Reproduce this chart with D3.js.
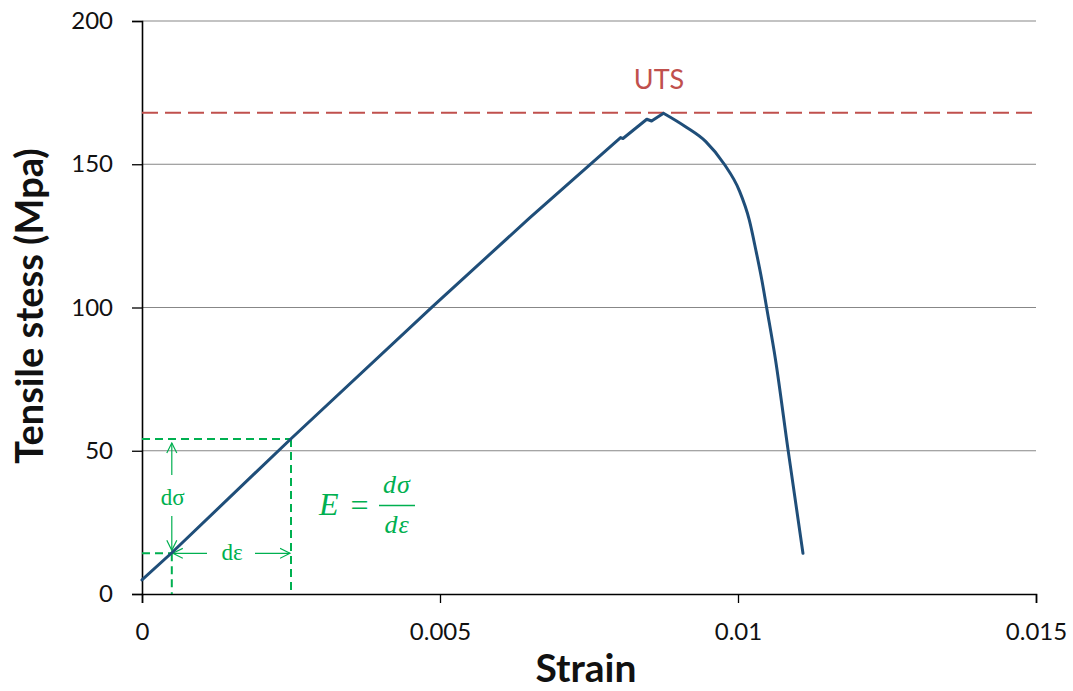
<!DOCTYPE html>
<html>
<head>
<meta charset="utf-8">
<script src="https://cdn.jsdelivr.net/npm/d3@7"></script>
<style>
  html, body { margin: 0; padding: 0; background: #fff; }
  svg { display: block; }
  .sans { font-family: Lato, "Open Sans", sans-serif; }
  .serif { font-family: "Liberation Serif", "DejaVu Serif", serif; }
</style>
</head>
<body>
<svg id="chart" width="1073" height="691"></svg>
<script>
// Stress–strain curve of the tensile test
const strain = [0, 0.0005, 0.0025, 0.00487, 0.0065, 0.00803, 0.00807, 0.00847, 0.00855, 0.00875,
                0.00912, 0.00946, 0.00977, 0.01002, 0.01019, 0.0103, 0.0104, 0.01048,
                0.01063, 0.01084, 0.01109];
const stress = [4.9, 14.4, 54.2, 100.2, 131.2, 159.3, 159.0, 165.7, 165.1, 167.8,
                163.1, 157.9, 150.0, 140.9, 130.5, 120.0, 109.6, 100.0,
                81.7, 50.3, 14.2];

// Ultimate tensile strength
const utsValue = 168;
const utsLabel = "UTS";

// Two points used to illustrate the modulus E = dσ/dε
const slopeStrain = [0.0005, 0.0025];
const slopeStress = [14.2, 54.1];

// Axes
const xTicks = [0, 0.005, 0.01, 0.015];
const xTickLabels = ["0", "0.005", "0.01", "0.015"];
const yTicks = [0, 50, 100, 150, 200];
const yTickLabels = ["0", "50", "100", "150", "200"];
const xTitle = "Strain";
const yTitle = "Tensile stess (Mpa)";

const svg = d3.select("#chart");
const x = d3.scaleLinear().domain([0, 0.015]).range([142, 1036]);
const y = d3.scaleLinear().domain([0, 200]).range([594, 21]);

const green = "#00b050";
const red = "#c0504d";
const blue = "#1f4e79";

// Horizontal gridlines
svg.append("g")
  .selectAll("line")
  .data(yTicks.filter(d => d > 0))
  .join("line")
  .attr("x1", x(0)).attr("x2", x(0.015))
  .attr("y1", d => y(d)).attr("y2", d => y(d))
  .attr("stroke", "#878787").attr("stroke-width", 1);

// Y axis
const yAxis = svg.append("g")
  .attr("transform", `translate(${x(0)},0)`)
  .call(d3.axisLeft(y).tickValues(yTicks).tickFormat((d, i) => yTickLabels[i]).tickSize(10).tickPadding(19));
yAxis.select(".domain").attr("stroke", "#000").attr("stroke-width", 1.6);
yAxis.selectAll(".tick line").attr("stroke", "#000").attr("stroke-width", 1.3);
yAxis.selectAll(".tick text")
  .attr("class", "sans")
  .attr("font-size", 24).attr("fill", "#111");

// X axis
const xAxis = svg.append("g")
  .attr("transform", `translate(0,${y(0)})`)
  .call(d3.axisBottom(x).tickValues(xTicks).tickFormat((d, i) => xTickLabels[i]).tickSize(9).tickPadding(20));
xAxis.select(".domain").attr("stroke", "#000").attr("stroke-width", 1.6);
xAxis.selectAll(".tick line").attr("stroke", "#000").attr("stroke-width", 1.3);
xAxis.selectAll(".tick text")
  .attr("class", "sans")
  .attr("font-size", 24).attr("fill", "#111");

// Axis titles
svg.append("text")
  .attr("class", "sans")
  .attr("x", 586)
  .attr("y", 682)
  .attr("text-anchor", "middle")
  .attr("font-size", 39).attr("font-weight", "bold").attr("fill", "#111")
  .text(xTitle);

svg.append("text")
  .attr("class", "sans")
  .attr("transform", `translate(43,306) rotate(-90)`)
  .attr("text-anchor", "middle")
  .attr("font-size", 38).attr("font-weight", "bold").attr("fill", "#111")
  .text(yTitle);

// UTS line and label
svg.append("line")
  .attr("x1", x(0)).attr("x2", x(0.015))
  .attr("y1", y(utsValue)).attr("y2", y(utsValue))
  .attr("stroke", red).attr("stroke-width", 2)
  .attr("stroke-dasharray", "16,7");
svg.append("text")
  .attr("class", "sans")
  .attr("x", 659).attr("y", 89)
  .attr("text-anchor", "middle")
  .attr("font-size", 27).attr("fill", red)
  .text(utsLabel);

// Modulus construction: dashed guides
const [e1, e2] = slopeStrain;
const [s1, s2] = slopeStress;
const guides = svg.append("g")
  .attr("stroke", green).attr("stroke-width", 2)
  .attr("stroke-dasharray", "8,5").attr("fill", "none");
guides.append("line").attr("x1", x(0)).attr("x2", x(e2)).attr("y1", y(s2)).attr("y2", y(s2));
guides.append("line").attr("x1", x(0)).attr("x2", x(e1)).attr("y1", y(s1)).attr("y2", y(s1));
guides.append("line").attr("x1", x(e1)).attr("x2", x(e1)).attr("y1", y(s1)).attr("y2", y(0));
guides.append("line").attr("x1", x(e2)).attr("x2", x(e2)).attr("y1", y(s2)).attr("y2", y(0));

// Open arrowhead marker
svg.append("defs").append("marker")
  .attr("id", "open-arrow")
  .attr("viewBox", "0 -6 12 12")
  .attr("refX", 10.5).attr("refY", 0)
  .attr("markerWidth", 12).attr("markerHeight", 12)
  .attr("markerUnits", "userSpaceOnUse")
  .attr("orient", "auto")
  .append("path")
  .attr("d", "M0.5,-5L10.5,0L0.5,5")
  .attr("fill", "none").attr("stroke", green).attr("stroke-width", 1.2);

const arrows = svg.append("g").attr("stroke", green).attr("stroke-width", 1.2);
const ax = x(e1);
// dσ (vertical)
arrows.append("line").attr("x1", ax).attr("x2", ax).attr("y1", 475).attr("y2", y(s2) + 4)
  .attr("marker-end", "url(#open-arrow)");
arrows.append("line").attr("x1", ax).attr("x2", ax).attr("y1", 516).attr("y2", y(s1) - 3)
  .attr("marker-end", "url(#open-arrow)");
// dε (horizontal)
arrows.append("line").attr("x1", 207).attr("x2", x(e1) + 1).attr("y1", y(s1)).attr("y2", y(s1))
  .attr("marker-end", "url(#open-arrow)");
arrows.append("line").attr("x1", 255).attr("x2", x(e2) - 1).attr("y1", y(s1)).attr("y2", y(s1))
  .attr("marker-end", "url(#open-arrow)");

svg.append("text")
  .attr("class", "serif")
  .attr("x", ax + 1).attr("y", 505)
  .attr("text-anchor", "middle")
  .attr("font-size", 23).attr("fill", green)
  .text("dσ");
svg.append("text")
  .attr("class", "serif")
  .attr("x", 232).attr("y", 560)
  .attr("text-anchor", "middle")
  .attr("font-size", 23).attr("fill", green)
  .text("dε");

// Equation E = dσ / dε
const eq = svg.append("g").attr("fill", green);
eq.append("text").attr("class", "serif").attr("x", 319).attr("y", 515)
  .attr("font-size", 32).attr("font-style", "italic").text("E");
eq.append("text").attr("class", "serif").attr("x", 359.5).attr("y", 516).attr("text-anchor", "middle")
  .attr("font-size", 32).text("=");
eq.append("line").attr("x1", 379).attr("x2", 415).attr("y1", 505.5).attr("y2", 505.5)
  .attr("stroke", green).attr("stroke-width", 1.6);
eq.append("text").attr("class", "serif").attr("x", 397).attr("y", 493).attr("text-anchor", "middle")
  .attr("font-size", 26).attr("font-style", "italic").attr("letter-spacing", 1).text("dσ");
eq.append("text").attr("class", "serif").attr("x", 397).attr("y", 533).attr("text-anchor", "middle")
  .attr("font-size", 26).attr("font-style", "italic").attr("letter-spacing", 1).text("dε");

// Stress–strain curve: straight segments up to the peak, smooth fall-off after it
const pts = strain.map((e, i) => [e, stress[i]]);
const peak = d3.maxIndex(stress);
const rising = d3.line().x(d => x(d[0])).y(d => y(d[1])).curve(d3.curveLinear);
const falling = d3.line().x(d => x(d[0])).y(d => y(d[1])).curve(d3.curveMonotoneX);
const pathD = rising(pts.slice(0, peak + 1)) + falling(pts.slice(peak)).replace(/^M[^CL]*/, "");
svg.append("path")
  .attr("d", pathD)
  .attr("fill", "none")
  .attr("stroke", blue)
  .attr("stroke-width", 3)
  .attr("stroke-linejoin", "round")
  .attr("stroke-linecap", "round");
</script>
</body>
</html>
